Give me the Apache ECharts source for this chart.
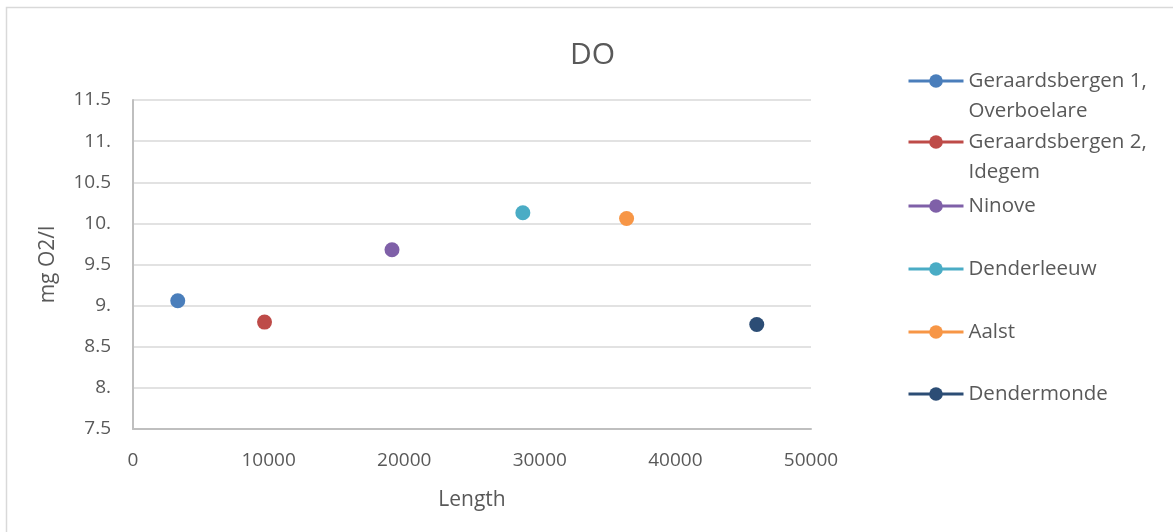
<!DOCTYPE html>
<html>
<head>
<meta charset="utf-8">
<title>DO</title>
<script src="https://cdn.jsdelivr.net/npm/echarts@6/dist/echarts.min.js"></script>
<style>
  html, body { margin: 0; padding: 0; background: #ffffff; }
  #chart { width: 1173px; height: 532px; }
</style>
</head>
<body>
<div id="chart"></div>
<script>
// Sampling stations along the Dender: distance (m) and dissolved oxygen (mg O2/l)
const stations = ['Geraardsbergen 1, Overboelare', 'Geraardsbergen 2, Idegem', 'Ninove', 'Denderleeuw', 'Aalst', 'Dendermonde'];
const legendLabels = ['Geraardsbergen 1,\nOverboelare', 'Geraardsbergen 2,\nIdegem', 'Ninove', 'Denderleeuw', 'Aalst', 'Dendermonde'];
const lengths = [3300, 9700, 19100, 28750, 36400, 46000];
const doValues = [9.06, 8.80, 9.68, 10.13, 10.06, 8.77];
const colors = ['#4a7ebb', '#be4b48', '#7f60a8', '#4aacc5', '#f79646', '#2c4d75'];
const yTickLabels = ['7.5', '8.', '8.5', '9.', '9.5', '10.', '10.5', '11.', '11.5'];
const xTickLabels = ['0', '10000', '20000', '30000', '40000', '50000'];

const textColor = '#595959';
const font = '"Open Sans", "Liberation Sans", sans-serif';

// Legend rows: centre line of each entry's marker
const legendRowY = [81, 142, 206, 269, 332, 394];

const legends = stations.map((name, i) => {
  const twoLines = legendLabels[i].indexOf('\n') >= 0;
  // a leading blank line keeps the first text line level with the marker
  const label = twoLines ? ' \n' + legendLabels[i] : legendLabels[i];
  return {
    data: [name],
    orient: 'vertical',
    left: 907,
    top: twoLines ? legendRowY[i] - 45 : legendRowY[i] - 15,
    padding: 0,
    itemWidth: 55,
    itemHeight: 17,
    selectedMode: false,
    formatter: () => label,
    lineStyle: { width: 3 },
    textStyle: {
      color: textColor,
      fontFamily: font,
      fontSize: 20.5,
      lineHeight: 30
    }
  };
});

const series = stations.map((name, i) => ({
  name: name,
  type: 'line',
  data: [[lengths[i], doValues[i]]],
  symbol: 'circle',
  symbolSize: 15,
  showSymbol: true,
  itemStyle: { color: colors[i] },
  lineStyle: { color: colors[i], width: 3 },
  emphasis: { disabled: true },
  animation: false
}));

const chart = echarts.init(document.getElementById('chart'), null, { renderer: 'canvas' });
chart.setOption({
  backgroundColor: '#ffffff',
  animation: false,
  title: {
    text: 'DO',
    left: 565,
    top: 35,
    textStyle: { color: textColor, fontFamily: font, fontSize: 30, fontWeight: 'normal' }
  },
  legend: legends,
  graphic: [{
    type: 'rect',
    shape: { x: 6.5, y: 7.5, width: 1400, height: 800 },
    style: { fill: 'none', stroke: '#d9d9d9', lineWidth: 1.5 },
    silent: true,
    z: -1
  }],
  grid: { left: 133, right: 362, top: 100, bottom: 103 },
  xAxis: {
    type: 'value',
    min: 0,
    max: 50000,
    interval: 10000,
    name: 'Length',
    nameLocation: 'middle',
    nameGap: 61,
    nameTextStyle: { color: textColor, fontFamily: font, fontSize: 21 },
    axisLine: { show: true, lineStyle: { color: '#bfbfbf', width: 2 } },
    axisTick: { show: false },
    splitLine: { show: false },
    axisLabel: {
      color: textColor, fontFamily: font, fontSize: 19, margin: 22,
      formatter: (v) => xTickLabels[Math.round(v / 10000)]
    }
  },
  yAxis: {
    type: 'value',
    min: 7.5,
    max: 11.5,
    interval: 0.5,
    name: 'mg O2/l',
    nameLocation: 'middle',
    nameGap: 74,
    nameTextStyle: { color: textColor, fontFamily: font, fontSize: 21 },
    axisLine: { show: true, lineStyle: { color: '#bfbfbf', width: 2 } },
    axisTick: { show: false },
    splitLine: { show: true, lineStyle: { color: '#d9d9d9', width: 1.5 } },
    axisLabel: {
      color: textColor, fontFamily: font, fontSize: 19, margin: 22,
      formatter: (v) => yTickLabels[Math.round((v - 7.5) / 0.5)]
    }
  },
  series: series
});
</script>
</body>
</html>
